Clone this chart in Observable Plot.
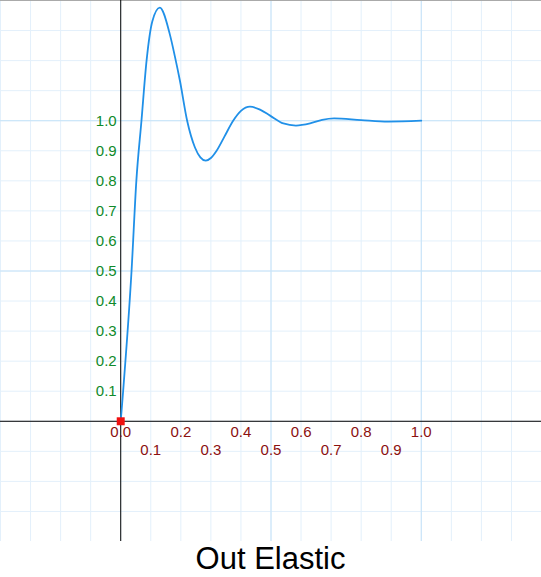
<!DOCTYPE html>
<html><head><meta charset="utf-8">
<script src="https://cdn.jsdelivr.net/npm/d3@7"></script>
<script src="https://cdn.jsdelivr.net/npm/@observablehq/plot@0.6"></script>
<style>
body{margin:0;background:#fff;font-family:"Liberation Sans",Arial,sans-serif}
#title{width:541px;text-align:center;font-size:31px;line-height:36px;color:#000}
</style></head><body>
<div id="chart"></div>
<div id="title">Out Elastic</div>
<script>
// curve points
const tValues = [0, 0.008, 0.036, 0.052, 0.069, 0.086, 0.105, 0.13, 0.163, 0.18, 0.197, 0.221, 0.247, 0.265, 0.283, 0.3, 0.319, 0.345, 0.374, 0.4, 0.43, 0.465, 0.497, 0.541, 0.583, 0.63, 0.67, 0.71, 0.8, 0.89, 1.0];
const yValues = [0, 0.1, 0.5, 0.8, 1.0, 1.2, 1.33, 1.376, 1.289, 1.215, 1.133, 1.0, 0.911, 0.878, 0.867, 0.876, 0.9, 0.947, 1.0, 1.033, 1.047, 1.036, 1.017, 0.991, 0.984, 0.991, 1.003, 1.008, 1.002, 0.997, 1.0];
const xTicks = [0, 0.1, 0.2, 0.3, 0.4, 0.5, 0.6, 0.7, 0.8, 0.9, 1.0];
const yTicks = [0.1, 0.2, 0.3, 0.4, 0.5, 0.6, 0.7, 0.8, 0.9, 1.0];

const curve = tValues.map((t, i) => ({t, y: yValues[i]}));
const minor = d3.range(-4, 15).map(i => i / 10);
const evenTicks = xTicks.filter((d, i) => i % 2 === 0);
const oddTicks = xTicks.filter((d, i) => i % 2 === 1);

const chart = Plot.plot({
  width: 541, height: 541,
  margin: 0,
  x: {domain: [-0.4, 1.4], axis: null},
  y: {domain: [-0.4, 1.4], axis: null},
  style: {fontFamily: "Liberation Sans, Arial, sans-serif", fontSize: "15px"},
  marks: [
    Plot.ruleX(minor, {stroke: "#e3f0fb", strokeWidth: 1}),
    Plot.ruleY(minor, {stroke: "#e3f0fb", strokeWidth: 1}),
    Plot.ruleX([0.5, 1.0], {stroke: "#c6e3f8", strokeWidth: 1}),
    Plot.ruleY([0.5, 1.0], {stroke: "#c6e3f8", strokeWidth: 1}),
    Plot.ruleY([1.4], {stroke: "#aaa"}),
    Plot.ruleX([0], {stroke: "#000"}),
    Plot.ruleY([0], {stroke: "#000"}),
    Plot.line(curve, {x: "t", y: "y", stroke: "#2090e8", strokeWidth: 1.8, curve: "monotone-x"}),
    Plot.text(yTicks, {x: 0, y: d => d, text: d => d.toFixed(1), textAnchor: "end", dx: -4, fill: "#108a2a"}),
    Plot.text(evenTicks, {x: d => d, y: 0, text: d => d.toFixed(1), fill: "#8b1010", dy: 11}),
    Plot.text(oddTicks, {x: d => d, y: 0, text: d => d.toFixed(1), fill: "#8b1010", dy: 29}),
    Plot.dot([[0, 0]], {x: d => d[0], y: d => d[1], symbol: "square", r: 4.5, fill: "#f01010"})
  ]
});
d3.select('#chart').append(() => chart);
</script>
</body></html>
